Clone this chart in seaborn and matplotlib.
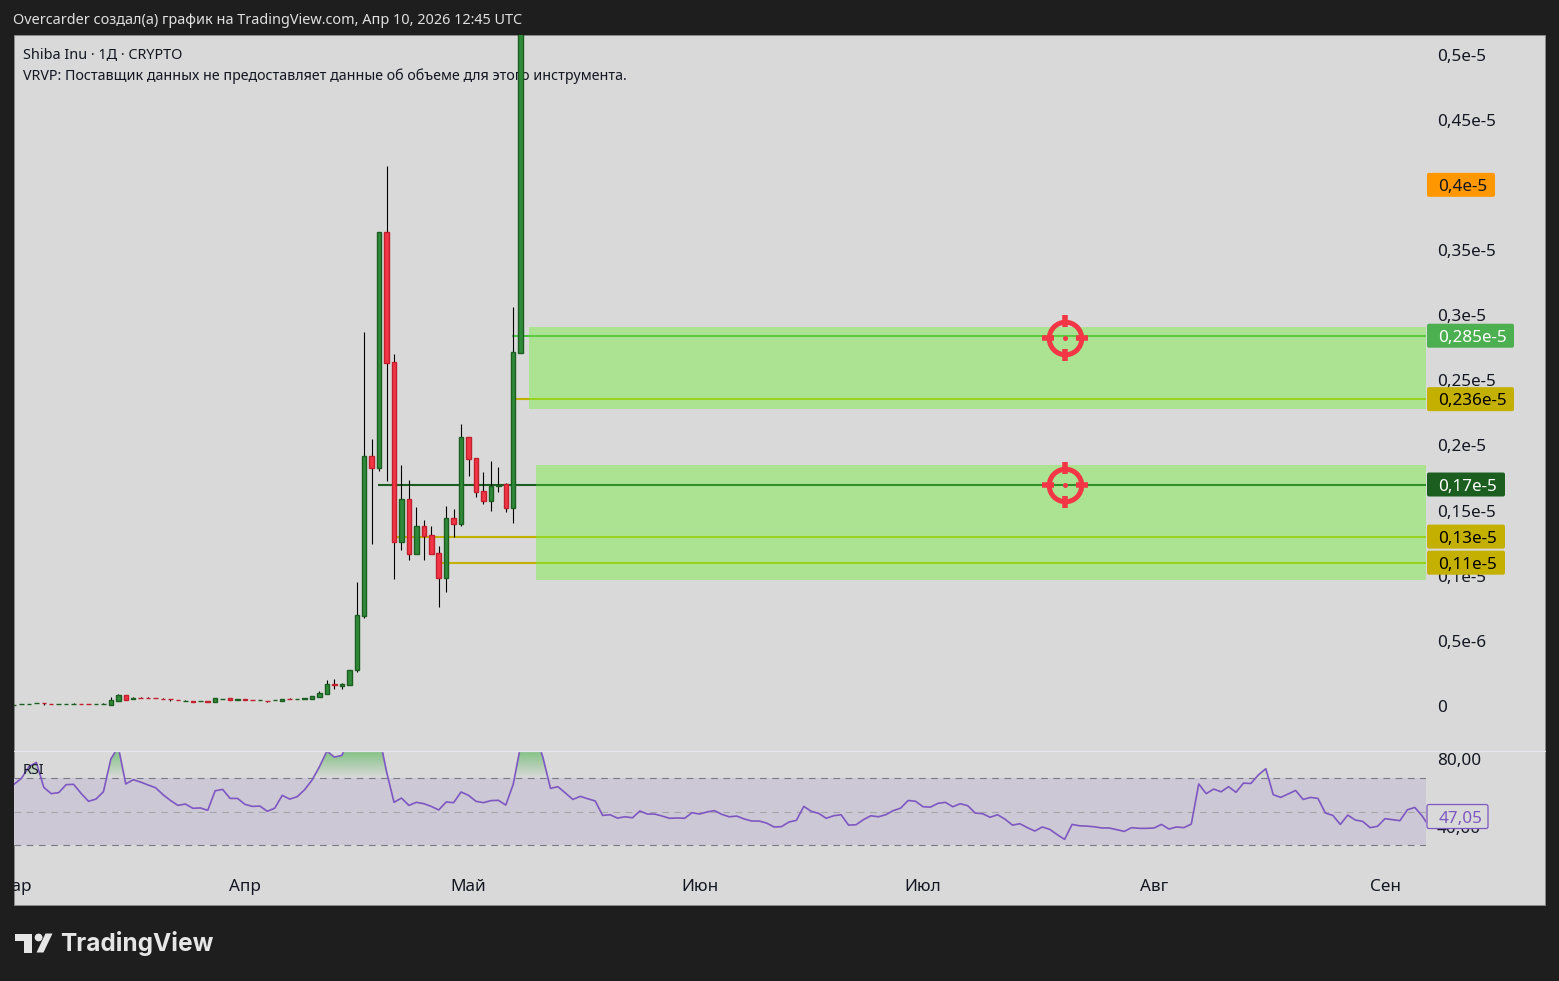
import numpy as np
import pandas as pd
import matplotlib
matplotlib.use("Agg")
import matplotlib.pyplot as plt
import seaborn as sns
from matplotlib.patches import FancyBboxPatch, Rectangle, Polygon, Circle
from matplotlib.path import Path
from matplotlib.lines import Line2D
from matplotlib.transforms import IdentityTransform, ScaledTranslation

# ---------- data (prices in units of 1e-5) ----------
opens = [.0005,.0015,.0015,.0021,.0021,.0015,.0015,.0015,.0015,.0015,.0015,.0015,.0015,.0010,.0041,.0082,.0052,.0060,.0061,.0060,.0053,.0056,.0046,.0036,.0036,.0036,.0036,.0033,.0056,.0059,.0049,.0050,.0044,.0044,.0042,.0043,.0041,.0051,.0051,.0057,.0056,.0072,.0094,.0167,.0153,.0163,.0276,.0693,.1916,.1829,.3635,.2638,.1261,.1586,.1169,.1379,.1310,.1172,.0985,.1440,.1399,.2062,.1901,.1648,.1576,.1686,.1701,.1522,.2711]
highs = [.0006,.0016,.0016,.0022,.0021,.0015,.0016,.0016,.0025,.0015,.0015,.0016,.0025,.0069,.0092,.0082,.0069,.0070,.0070,.0060,.0062,.0056,.0046,.0048,.0036,.0037,.0036,.0059,.0057,.0059,.0050,.0050,.0044,.0045,.0042,.0044,.0054,.0061,.0052,.0058,.0074,.0115,.0199,.0207,.0176,.0276,.0952,.2870,.2049,.3635,.4144,.2701,.1850,.1734,.1527,.1425,.1381,.1228,.1535,.1512,.2164,.2062,.1901,.1796,.1880,.1834,.1711,.3064,.5500]
lows = [.0005,.0015,.0015,.0021,.0010,.0014,.0015,.0015,.0015,.0014,.0014,.0015,.0015,.0010,.0041,.0048,.0052,.0058,.0059,.0058,.0051,.0038,.0044,.0036,.0034,.0036,.0034,.0033,.0056,.0048,.0049,.0049,.0043,.0044,.0031,.0043,.0041,.0050,.0051,.0057,.0056,.0072,.0094,.0130,.0130,.0163,.0261,.0678,.1246,.1806,.1729,.0977,.1197,.1123,.1169,.1123,.1169,.0762,.0877,.1299,.1384,.1767,.1606,.1553,.1499,.1645,.1491,.1407,.2711]
closes = [.0006,.0016,.0016,.0022,.0020,.0014,.0016,.0016,.0016,.0014,.0014,.0016,.0016,.0044,.0082,.0048,.0060,.0058,.0059,.0058,.0051,.0055,.0044,.0037,.0034,.0037,.0034,.0059,.0057,.0048,.0050,.0049,.0043,.0045,.0041,.0044,.0054,.0050,.0052,.0058,.0074,.0098,.0169,.0165,.0169,.0276,.0696,.1916,.1829,.3635,.2635,.1261,.1586,.1169,.1379,.1307,.1169,.0985,.1440,.1399,.2062,.1898,.1645,.1576,.1688,.1698,.1522,.2714,.5500]

rsi_values = [66,69.5,76.4,78.9,64.2,60.5,61.1,65.8,66,60.7,56,57.3,61.6,80.9,88,66.2,68.7,67.3,65.6,64,59.9,56.5,53.6,54.4,51.9,52.1,50.7,62.2,63,57.7,57.7,54.2,53,53.2,50.1,52,59.5,57.3,58.7,62.8,68.5,76.4,85.6,82,83,93,95,96,93,95,73.4,55.4,57.9,53.6,55.4,54.6,53,50.9,55.6,55.2,61.5,59.5,56,55.2,56.4,56.6,53.8,66,89,95,96,81.6,63.6,64.6,60.9,57.1,58.9,57.5,56.2,47.7,48.1,46.1,46.9,46.3,50.3,48.5,48.5,47.3,46,46.2,46,49.3,48.5,49.7,50.5,48.3,46.9,47.3,45.6,44.4,44.4,43.2,40.9,41.1,43.8,44.8,53,50.1,48.9,46,47.5,48.1,42,42.2,45.2,47.5,46.9,48.1,50.5,52,56.5,56,52.8,52.6,54.8,55.4,52.8,54.6,53.4,49.1,48.7,46.6,48.1,45.5,42,42.8,40.5,38.5,40.9,39.5,36.4,33.6,42.4,41.6,41.4,41,40.3,40.3,39.3,38.3,40.5,40.1,40.1,40.3,42.4,39.7,40.9,40.5,42.6,66.2,60.5,63.2,61.6,64.6,61.3,66.7,66.5,71.5,75.2,59.9,58.3,60.3,62.4,57.1,58.3,57.7,49.1,47.7,42.4,47.9,45,44.2,40.5,41.3,45.8,45.2,44.6,51,52.4,47.3,40.6]

level_prices = [0.2842, 0.2355, 0.17, 0.13, 0.11]
level_starts = [66.85, 67.3, 48.86, 51.2, 57.3]
box_ranges = [(0.2279, 0.2909, 69.13), (0.0967, 0.1850, 70.07)]
target_marks = [0.2825, 0.1700]
target_day = 141.0
price_ticks = [0, .05, .1, .15, .2, .25, .3, .35, .4, .45, .5]
price_labels = ["0", "0,5e-6", "0,1e-5", "0,15e-5", "0,2e-5", "0,25e-5", "0,3e-5", "0,35e-5", "0,4e-5", "0,45e-5", "0,5e-5"]
month_days = [0, 31, 61, 92, 122, 153, 184]
month_labels = ["Мар", "Апр", "Май", "Июн", "Июл", "Авг", "Сен"]
rsi_ticks = [80, 40]
rsi_labels = ["80,00", "40,00"]

# ---------- style ----------
W, H = 1559, 981
XMAX = 189.5
BG = "#d9d9d9"
DARK = "#1e1e1e"
TXT = "#131722"
sns.set_theme(style="white")
plt.rcParams["font.family"] = ["Noto Sans", "DejaVu Sans"]
FS = 12.3
FT = 10.4
PX = 0.72  # points per pixel at dpi 100
idt = IdentityTransform()


def rect(l, t, r, b):
    return [l / W, 1 - b / H, (r - l) / W, (b - t) / H]


fig = plt.figure(figsize=(W / 100, H / 100), dpi=100, facecolor=DARK)
fig.add_artist(Rectangle((13.5, H - 905), 1531.5, 870, transform=idt,
                         facecolor=BG, edgecolor="#8a8a8a", linewidth=0.7, zorder=-5))
ax = fig.add_axes(rect(14, 35, 1426, 750))
rx = fig.add_axes(rect(14, 751, 1426, 868))
for a in (ax, rx):
    a.set_facecolor("none")
    for s in a.spines.values():
        s.set_visible(False)
    a.set_xlim(0, XMAX)
ax.set_ylim(-0.03377, 0.5150)
rx.set_ylim(16.76, 85.6)

# ---------- text under the candles ----------
ax.text(23, H - 55, "Shiba Inu · 1Д · CRYPTO", transform=idt, color=TXT, fontsize=FT, va="center", zorder=1)
ax.text(23, H - 76, "VRVP: Поставщик данных не предоставляет данные об объеме для этого инструмента.",
        transform=idt, color=TXT, fontsize=10.28, va="center", zorder=1, clip_on=False)

# ---------- levels and zones ----------
lcol_out = ["#4cc43c", "#c4b000", "#1b5e20", "#c4b000", "#c4b000"]
lcol_in = ["#5ccb42", "#98d21e", "#2f8f28", "#98d21e", "#98d21e"]
lbox = [0, 0, 1, 1, 1]
for (lo, hi, start) in box_ranges:
    ax.add_patch(Rectangle((start, lo), XMAX - start, hi - lo, facecolor="#abe393", edgecolor="none", zorder=2))
for p, s, co, ci, b in zip(level_prices, level_starts, lcol_out, lcol_in, lbox):
    bstart = box_ranges[b][2]
    ax.plot([s, bstart], [p, p], color=co, lw=1.5, solid_capstyle="butt", zorder=2.5)
    ax.plot([bstart, XMAX], [p, p], color=ci, lw=1.5, solid_capstyle="butt", zorder=2.5)

# ---------- candles ----------
days = np.arange(len(opens))
o, h_, l_, c = map(np.array, (opens, highs, lows, closes))
up = c >= o
ax.vlines(days, l_, h_, color="black", lw=0.8, zorder=3)
ax.bar(days[up], (c - o)[up], bottom=o[up], width=0.6, color="#2f8a3a", edgecolor="#1b5e20", linewidth=1.0, zorder=4)
ax.bar(days[~up], (o - c)[~up], bottom=c[~up], width=0.6, color="#f23645", edgecolor="#c2202e", linewidth=1.0, zorder=4)

# ---------- target marks ----------
verts = [(0, 1.0), (0, 0.5), (0, -1.0), (0, -0.5), (-1.0, 0), (-0.5, 0), (1.0, 0), (0.5, 0)]
codes = [Path.MOVETO, Path.LINETO] * 4
tick_marker = Path(verts, codes)
for p in target_marks:
    ax.plot([target_day], [p], marker="o", ms=32.5 * PX, mfc="none", mec="#f23645", mew=5 * PX, zorder=6)
    ax.plot([target_day], [p], marker=tick_marker, ms=46 * PX, mfc="none", mec="#f23645", mew=5.5 * PX, zorder=6)
    ax.plot([target_day], [p], marker="o", ms=5 * PX, mfc="#f23645", mec="none", zorder=6)

# ---------- price scale ----------
ax.yaxis.tick_right()
ax.set_yticks(price_ticks)
ax.set_yticklabels(price_labels, color=TXT, fontsize=FS, ha="left")
ax.tick_params(axis="y", length=0, pad=11 * PX)
ax.set_xticks([])

# ---------- RSI pane ----------
rx.axhspan(30, 70, facecolor="#ccc8d5", edgecolor="none", zorder=1)
rsi_df = pd.DataFrame({"day": np.arange(len(rsi_values)), "rsi": rsi_values})
arr = np.array(rsi_values, dtype=float)
grad = np.linspace(0, 1, 64)[:, None]
rgba = np.zeros((64, 1, 4))
rgba[..., :3] = np.array([0x7f, 0xc0, 0x80]) / 255
rgba[..., 3] = grad * 0.95
im = rx.imshow(rgba, extent=[0, XMAX, 70, 85.6], origin="lower", aspect="auto", zorder=2)
fine_x = np.linspace(0, len(arr) - 1, 4000)
fine_y = np.interp(fine_x, rsi_df["day"], rsi_df["rsi"])
poly = rx.fill_between(fine_x, 70, fine_y, where=fine_y > 70, facecolor="none", edgecolor="none")
clip = Path.make_compound_path(*poly.get_paths())
im.set_clip_path(clip, rx.transData)
rx.set_xlim(0, XMAX)
rx.set_ylim(16.76, 85.6)
for lev, col in zip((70, 50, 30), ("#787b86", "#a6a6ab", "#787b86")):
    rx.axhline(lev, color=col, lw=0.8, dashes=(6, 5), zorder=3)
sns.lineplot(data=rsi_df, x="day", y="rsi", ax=rx, color="#7e57c2", lw=1.2, zorder=5, legend=False, errorbar=None)
rx.set_xlabel("")
rx.set_ylabel("")
rx.text(23, H - 771, "RSI", transform=idt, color=TXT, fontsize=FT, va="center", zorder=6)
rx.yaxis.tick_right()
rx.set_yticks(rsi_ticks)
rx.set_yticklabels(rsi_labels, color=TXT, fontsize=FS, ha="left")
rx.tick_params(axis="y", length=0, pad=11 * PX)
shift = ScaledTranslation(0, 0.02, fig.dpi_scale_trans)
for lbl in rx.get_yticklabels():
    lbl.set_transform(lbl.get_transform() + shift)

# ---------- month scale ----------
rx.set_xticks(month_days)
rx.set_xticklabels(month_labels, color=TXT, fontsize=FS)
rx.tick_params(axis="x", length=0, pad=11 * PX)
frame_clip = Rectangle((14, H - 905), 1531, 870, transform=idt)
for lbl in rx.get_xticklabels():
    lbl.set_clip_path(frame_clip)
    lbl.set_clip_on(True)

# separator between panes
fig.add_artist(Line2D([14, 1545], [H - 750.5, H - 750.5], transform=idt, color="#e7e5ee", lw=0.9, zorder=5))


# ---------- value badges ----------
def badge(axis, value, label, width, bg, fg, weight="medium", edge="none"):
    y = axis.transData.transform((0, value))[1]
    fig.add_artist(FancyBboxPatch((1427, y - 12), width, 24, boxstyle="round,pad=0,rounding_size=2",
                                  transform=idt, facecolor=bg, edgecolor=edge, linewidth=0.9, zorder=6))
    fig.text(1438.5 / W, y / H, label, color=fg, fontsize=FS, fontweight=weight, va="center_baseline", ha="left", zorder=7)


badge(ax, 0.4, "0,4e-5", 68, "#ff9800", "#131722")
badge(ax, 0.2842, "0,285e-5", 87, "#4caf50", "white", "semibold")
badge(ax, 0.2355, "0,236e-5", 87, "#c4b000", "black")
badge(ax, 0.17, "0,17e-5", 78, "#1b5e20", "white", "semibold")
badge(ax, 0.13, "0,13e-5", 78, "#c4b000", "black")
badge(ax, 0.11, "0,11e-5", 78, "#c4b000", "black")
badge(rx, 47.05, "47,05", 61, BG, "#7e57c2", edge="#7e57c2")

# ---------- header and footer ----------
fig.text(13 / W, 1 - 20 / H, "Overcarder создал(а) график на TradingView.com, Апр 10, 2026 12:45 UTC",
         color="#e0e0e0", fontsize=FT, va="center", ha="left")
LOGO = "#e6e6e6"
fig.add_artist(Polygon([(15.3, H - 933.5), (32, H - 933.5), (32, H - 952.5), (23.5, H - 952.5), (23.5, H - 941), (15.3, H - 941)],
                       closed=True, transform=idt, facecolor=LOGO, edgecolor="none"))
fig.add_artist(Circle((38.6, H - 937.5), 3.9, transform=idt, facecolor=LOGO, edgecolor="none"))
fig.add_artist(Polygon([(45.5, H - 933.5), (52.5, H - 933.5), (43.5, H - 952.5), (36.5, H - 952.5)],
                       closed=True, transform=idt, facecolor=LOGO, edgecolor="none"))
fig.text(60.5 / W, 1 - 944 / H, "TradingView", family=["Inter", "DejaVu Sans"], color=LOGO, fontsize=17.6, fontweight="bold",
         va="center", ha="left")

fig.savefig("out.png", dpi=100, facecolor=DARK)
